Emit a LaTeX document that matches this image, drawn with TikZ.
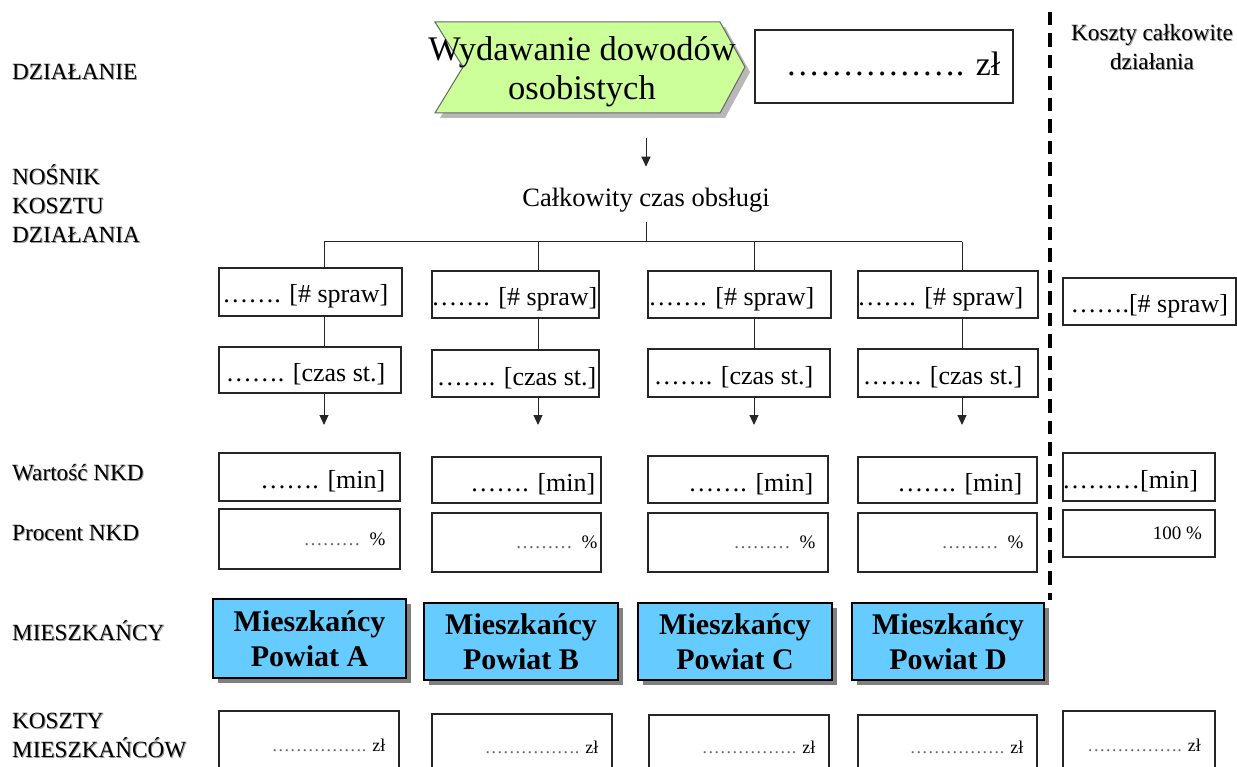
\documentclass[tikz,border=0pt]{standalone}
\usepackage{fontspec}
\setmainfont{Liberation Serif}
\usetikzlibrary{arrows.meta}

\definecolor{actgreen}{RGB}{204,255,153}
\definecolor{popblue}{RGB}{102,204,255}

% text with a faint offset shadow
\newcommand\shtxt[1]{\makebox[0pt][l]{\hspace{1pt}\raisebox{-1pt}{\textcolor{black!40}{#1}}}#1}
% light leader dots
\newcommand\lightdots[1]{\textcolor{black!60}{#1}}

% a framed cell: name, x1, y1, x2, y2, frame style, text style, right padding, text
\newcommand\cell[9]{%
  \node[#6, minimum width={(#4-#2)*1pt}, minimum height={(#5-#3)*1pt}] (#1) at ({(#2+#4)/2},{(#3+#5)/2}) {};
  \node[anchor=east, inner sep=0pt, #7] (#1-t) at ([xshift=-#8pt]#1.east) {#9};}

% a residents box: name, x1, y1, x2, y2, district letter
\newcommand\popbox[6]{%
  \node[popbox, minimum width={(#4-#2)*1pt}, minimum height={(#5-#3)*1pt}] (#1) at ({(#2+#4)/2},{(#3+#5)/2}) {Mieszkańcy\\Powiat #6};}

\begin{document}
\begin{tikzpicture}[x=1pt, y=-1pt,
  box/.style={draw=black!85, line width=1.1pt, inner sep=0pt},
  tbox/.style={draw=black!85, line width=2.3pt, inner sep=0pt},
  huge/.style={font=\fontsize{34}{38}\selectfont, yshift=3pt},
  big/.style={font=\fontsize{26}{30}\selectfont, yshift=-4.5pt},
  small/.style={font=\fontsize{19}{22}\selectfont},
  tiny/.style={font=\fontsize{18}{21}\selectfont},
  lbl/.style={font=\fontsize{23.2}{29}\selectfont, inner sep=0pt, anchor=west, align=left},
  acttext/.style={font=\fontsize{34.5}{39}\selectfont, align=center, inner sep=0pt},
  popbox/.style={draw=black, line width=1.5pt, fill=popblue, align=center, inner sep=0pt,
    font=\fontsize{30}{35}\selectfont\bfseries,
    preaction={fill=black!50, transform canvas={xshift=5pt, yshift=-5pt}}},
  conn/.style={draw=black!85, line width=1pt},
  arr/.style={conn, -{Triangle[length=10pt, width=9pt]}},
  divider/.style={line width=3.4pt, dash pattern=on 13.5pt off 8pt}
]
\useasboundingbox (0,0) rectangle (1237,767);
\clip (0,0) rectangle (1237,767);

% row labels
\node[lbl] (lAct) at (12,72) {\shtxt{DZIAŁANIE}};
\node[lbl] (lCarrier) at (12,204) {\shtxt{NOŚNIK}\\\shtxt{KOSZTU}\\\shtxt{DZIAŁANIA}};
\node[lbl] (lValue) at (12,473) {\shtxt{Wartość NKD}};
\node[lbl] (lPct) at (12,534) {\shtxt{Procent NKD}};
\node[lbl] (lRes) at (12,631) {\shtxt{MIESZKAŃCY}};
\node[lbl] (lResCost) at (12,735.5) {\shtxt{KOSZTY}\\\shtxt{MIESZKAŃCÓW}};
\node[font=\fontsize{23.2}{29}\selectfont, align=center, inner sep=0pt] (lTotal) at (1152,47.5)
  {\shtxt{Koszty całkowite}\\\shtxt{działania}};

% activity chevron
\fill[black!28] (440,27) -- (725,27) -- (750,72) -- (725,118) -- (440,118) -- (468,72) -- cycle;
\path[draw=black!60, line width=1pt, fill=actgreen]
  (435,22) -- (720,22) -- (745,67) -- (720,113) -- (435,113) -- (463,67) -- cycle;
\node[acttext, minimum height=91pt] (act) at (582,72) {Wydawanie dowodów\\osobistych};

\cell{top}{755}{30}{1013}{103}{box}{huge}{13}{……………. zł}

% cost driver
\node[font=\fontsize{26.5}{30}\selectfont, inner sep=0pt] (total) at (646,200) {Całkowity czas obsługi};
\draw[arr, shorten <=20pt, shorten >=21pt] (act.south -| total) -- (total);

% per-district cells
\cell{sA}{219}{268}{402}{316}{box}{big}{14}{……. [\# spraw]}
\cell{sB}{432}{271}{599}{318}{box}{big}{2}{……. [\# spraw]}
\cell{sC}{648}{271}{831}{318}{box}{big}{17}{……. [\# spraw]}
\cell{sD}{858}{271}{1038}{318}{box}{big}{15}{……. [\# spraw]}
\cell{sR}{1063}{278}{1236}{325}{tbox}{big}{9}{…….[\# spraw]}

\cell{cA}{219}{347}{401}{393}{box}{big}{16}{……. [czas st.]}
\cell{cB}{432}{350}{599}{397}{box}{big}{3}{……. [czas st.]}
\cell{cC}{648}{349}{830}{397}{box}{big}{17}{……. [czas st.]}
\cell{cD}{858}{349}{1038}{397}{box}{big}{16}{……. [czas st.]}

\cell{mA}{219}{453}{400}{501}{box}{big}{15}{……. [min]}
\cell{mB}{432}{457}{601}{503}{box}{big}{6}{……. [min]}
\cell{mC}{648}{456}{828}{503}{box}{big}{15}{……. [min]}
\cell{mD}{858}{457}{1037}{503}{box}{big}{15}{……. [min]}
\cell{mR}{1063}{453}{1215}{501}{tbox}{big}{18}{………[min]}

\cell{pA}{219}{509}{400}{569}{box}{small}{15}{\lightdots{………}\hspace{9pt}\%}
\cell{pB}{432}{513}{601}{572}{box}{small}{4}{\lightdots{………}\hspace{9pt}\%}
\cell{pC}{648}{513}{828}{572}{box}{small}{13}{\lightdots{………}\hspace{9pt}\%}
\cell{pD}{858}{513}{1037}{572}{box}{small}{14}{\lightdots{………}\hspace{9pt}\%}
\cell{pR}{1063}{510}{1215}{557}{tbox}{small}{14}{100 \%}

\popbox{bA}{213}{599}{406}{678}{A}
\popbox{bB}{424}{603}{618}{680}{B}
\popbox{bC}{638}{603}{832}{680}{C}
\popbox{bD}{852}{603}{1044}{680}{D}

\cell{kA}{219}{711}{399}{779}{box}{tiny}{14}{\lightdots{…………….} zł}
\cell{kB}{432}{714}{612}{780}{box}{tiny}{14}{\lightdots{…………….} zł}
\cell{kC}{649}{715}{829}{779}{box}{tiny}{14}{\lightdots{…………….} zł}
\cell{kD}{858}{715}{1037}{779}{box}{tiny}{14}{\lightdots{…………….} zł}
\cell{kR}{1063}{711}{1215}{779}{tbox}{tiny}{15}{\lightdots{…………….} zł}

% distribution tree
\coordinate (busA) at (324,242);
\coordinate (busB) at (538,242);
\coordinate (busC) at (754,242);
\coordinate (busD) at (962,242);
\draw[conn, shorten <=10pt] (total.south) -- (total.south |- busA);
\draw[conn] (busA) -- (busD);
\foreach \d in {A,B,C,D} {
  \coordinate (e\d) at (bus\d |- 0,425);
  \draw[conn] (bus\d) -- (bus\d |- s\d.north);
  \draw[conn] (s\d.south -| bus\d) -- (c\d.north -| bus\d);
  \draw[arr] (c\d.south -| bus\d) -- (e\d);
}

% divider of the totals column
\coordinate (divT) at (1050,12);
\coordinate (divB) at (1050,600);
\draw[divider] (divT) -- (divB);
\end{tikzpicture}
\end{document}
